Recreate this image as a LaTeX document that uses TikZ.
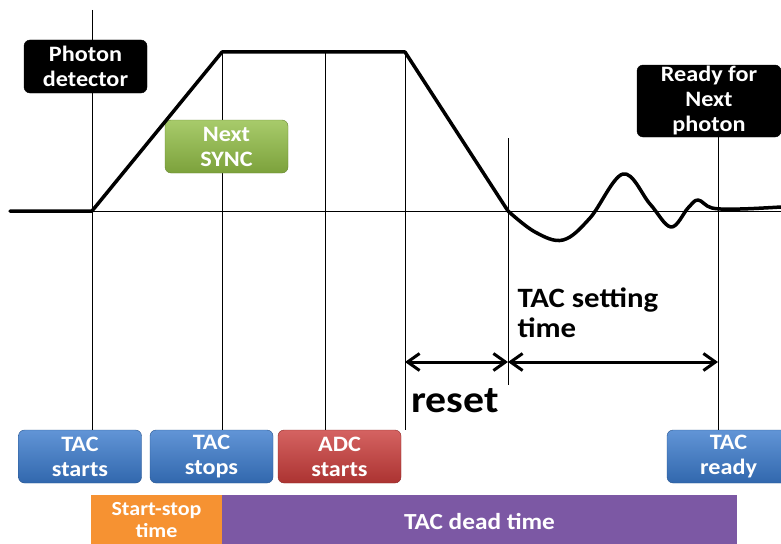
\documentclass[tikz,border=0pt]{standalone}
\usepackage{fontspec}
\setmainfont{Carlito}[FakeStretch=1.1]
\usetikzlibrary{arrows.meta}

\definecolor{tacblue}{RGB}{58,122,204}
\definecolor{adcred}{RGB}{202,60,58}
\definecolor{syncgreen}{RGB}{146,190,70}
\definecolor{ssorange}{RGB}{246,146,50}
\definecolor{deadpurple}{RGB}{124,88,164}

\tikzset{
  box/.style={rounded corners=6pt, minimum width=123pt, minimum height=53pt,
    align=center, text=white, inner sep=1pt,
    font=\fontsize{22}{25}\selectfont\bfseries},
  bluebox/.style={box, top color=tacblue!80!white, bottom color=tacblue!85!black,
    draw=tacblue!70!black},
  redbox/.style={box, top color=adcred!80!white, bottom color=adcred!85!black,
    draw=adcred!70!black},
  greenbox/.style={box, top color=syncgreen!80!white, bottom color=syncgreen!85!black,
    draw=syncgreen!70!black},
  blackbox/.style={box, fill=black, draw=black},
  bar/.style={minimum height=53pt, inner sep=1pt, align=center, text=white,
    font=\fontsize{23}{25}\selectfont\bfseries},
  guide/.style={line width=0.8pt},
  signal/.style={line width=3.5pt, line join=round, line cap=round},
  span/.style={line width=3pt, {Straight Barb[length=12pt,width=17pt]}-{Straight Barb[length=12pt,width=17pt]}},
  note/.style={text=black, font=\bfseries}
}

\begin{document}
\begin{tikzpicture}[x=1pt,y=-1pt]
  \clip (0,0) rectangle (781,543);

  % time marks on the base line
  \coordinate (t0) at (92,211);
  \coordinate (t1) at (222,52);
  \coordinate (t2) at (325,52);
  \coordinate (t3) at (405,52);
  \coordinate (t4) at (508,211);
  \coordinate (t5) at (718,211);
  \coordinate (top0) at (92,10);
  \coordinate (top4) at (508,138);
  \coordinate (ar3) at (405,362);
  \coordinate (ar4) at (508,362);
  \coordinate (ar5) at (718,362);
  \coordinate (end4) at (508,385);

  % labels
  \node[bluebox] (tacstart) at (80,456.5) {TAC\\starts};
  \node[bluebox] (tacstop) at (211.5,456.5) {TAC\\stops};
  \node[redbox] (adcstart) at (339.5,456.5) {ADC\\starts};
  \node[bluebox] (tacready) at (728.5,456.5) {TAC\\ready};

  % guide lines
  \draw[guide] (t0) -- (781,211);
  \draw[guide] (top0) -- (top0 |- tacstart.north);
  \draw[guide] (t1) -- (t1 |- tacstop.north);
  \draw[guide] (t2) -- (t2 |- adcstart.north);
  \draw[guide] (t3) -- (t3 |- adcstart.north);
  \draw[guide] (top4) -- (end4);

  \node[blackbox] (detector) at (85.5,66.5) {Photon\\detector};
  \node[greenbox] (sync) at (226.5,146.5) {Next\\SYNC};
  \node[blackbox, minimum width=144pt, minimum height=72pt] (ready) at (709,101)
    {Ready for\\Next\\photon};
  \draw[guide] (ready.south -| t5) -- (t5 |- tacready.north);

  % TAC output
  \draw[signal] (10,211) -- (t0) -- (t1) -- (t3) -- (t4)
    -- plot[smooth, tension=0.6] coordinates {(t4) (535,232) (563,240) (590,218)
    (623,174) (650,204) (671,227) (688,208) (698,200) (712,208) (740,209) (781,207)};

  % intervals
  \draw[span] (ar3) -- (ar4);
  \draw[span] (ar4) -- (ar5);
  \node[note, anchor=base west, font=\fontsize{38}{40}\selectfont\bfseries] (reset)
    at (408,412) {reset};
  \node[note, anchor=west, align=left, font=\fontsize{28}{30}\selectfont\bfseries]
    (setting) at (514,313) {TAC setting\\time};

  % dead time bars
  \node[bar, fill=ssorange, minimum width=131pt, text depth=4pt,
    font=\fontsize{20}{22}\selectfont\bfseries]
    (startstop) at (156.5,521.5) {Start-stop\\time};
  \node[bar, fill=deadpurple, minimum width=515pt] (deadtime) at (479.5,521.5)
    {TAC dead time};
\end{tikzpicture}
\end{document}
